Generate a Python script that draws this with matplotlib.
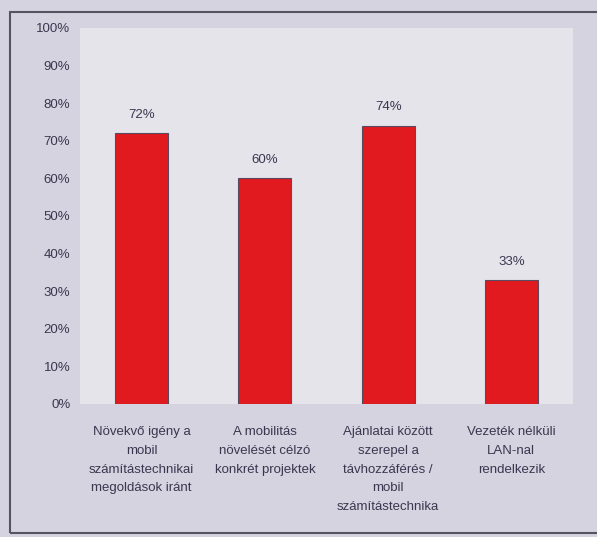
import matplotlib.pyplot as plt
import matplotlib.patches as patches
import numpy as np

categories = ["Növekvő igény a\nmobil\nszámítástechnikai\nmegoldások iránt",
              "A mobilitás\nnövelését célzó\nkonkrét projektek",
              "Ajánlatai között\nszerepel a\ntávhozzáférés /\nmobil\nszámítástechnika",
              "Vezeték nélküli\nLAN-nal\nrendelkezik"]
values = [72, 60, 74, 33]
yticks = [0, 10, 20, 30, 40, 50, 60, 70, 80, 90, 100]

plt.rcParams['font.family'] = ['Liberation Sans', 'DejaVu Sans']
txt_col = '#3b3650'

fig = plt.figure(figsize=(5.97, 5.37), dpi=100)
fig.patch.set_facecolor('#d5d3df')

# outer frame of the printed chart
frame = patches.Rectangle((10/597, 4/537), 1.0, 521/537, transform=fig.transFigure,
                          fill=False, edgecolor='#55535e', linewidth=1.5)
fig.patches.append(frame)

ax = fig.add_axes([80/597, 133/537, 493/597, 376/537])
ax.set_facecolor('#e5e4eb')

x = np.arange(len(values))
ax.bar(x, values, width=0.43, color='#e01a1f', edgecolor='#5a4a60', linewidth=0.8)
for xi, v in zip(x, values):
    ax.text(xi, v + 3.3, f"{v}%", ha='center', va='bottom', fontsize=9.5, color=txt_col)

ax.set_xlim(-0.5, len(values) - 0.5)
ax.set_ylim(0, 100)
ax.set_yticks(yticks)
ax.set_yticklabels([f"{t}%" for t in yticks], fontsize=9.5, color=txt_col)
ax.set_xticks(x)
ax.set_xticklabels(categories, fontsize=9.5, color=txt_col, linespacing=1.75)
ax.tick_params(axis='y', length=0, pad=7)
ax.tick_params(axis='x', length=0, pad=16)
for s in ax.spines.values():
    s.set_visible(False)

fig.savefig('out.png', dpi=100, facecolor=fig.get_facecolor())
